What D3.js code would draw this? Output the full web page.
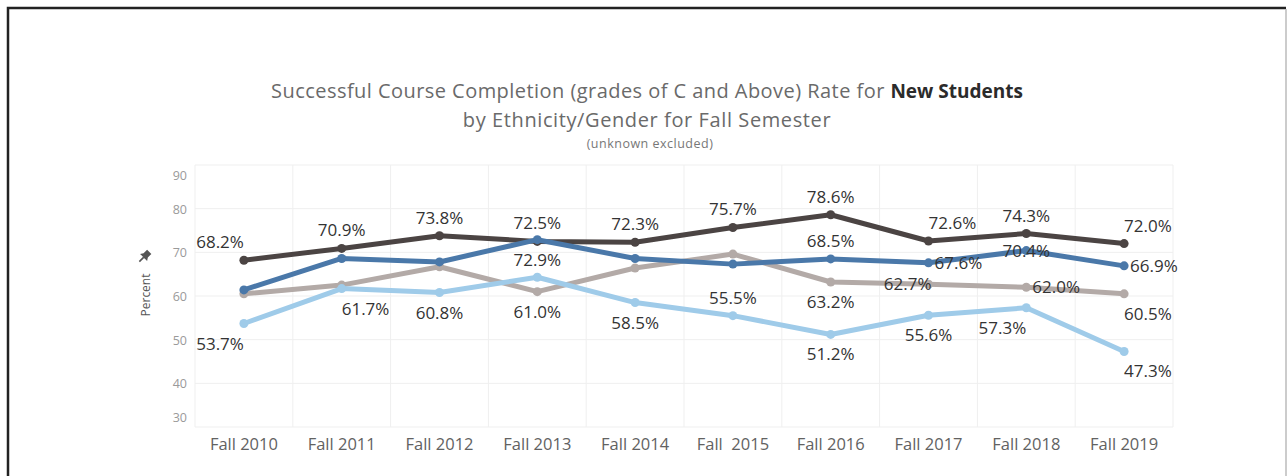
<!DOCTYPE html>
<html>
<head>
<meta charset="utf-8">
<script src="https://cdn.jsdelivr.net/npm/d3@7"></script>
<style>
  html, body { margin: 0; padding: 0; background: #fff; }
  svg { display: block; font-family: "Open Sans", sans-serif; }
</style>
</head>
<body>
<div id="chart"></div>
<script>
// semesters on the x axis
var terms = ["Fall 2010", "Fall 2011", "Fall 2012", "Fall 2013", "Fall 2014",
             "Fall  2015", "Fall 2016", "Fall 2017", "Fall 2018", "Fall 2019"];

// four ethnicity/gender groups (no legend in the source, named by colour)
var darkSeries  = [68.2, 70.9, 73.8, 72.5, 72.3, 75.7, 78.6, 72.6, 74.3, 72.0];
var blueSeries  = [61.4, 68.6, 67.8, 72.9, 68.6, 67.3, 68.5, 67.6, 70.4, 66.9];
var greySeries  = [60.5, 62.5, 66.7, 61.0, 66.4, 69.6, 63.2, 62.7, 62.0, 60.5];
var lightSeries = [53.7, 61.7, 60.8, 64.3, 58.5, 55.5, 51.2, 55.6, 57.3, 47.3];

var yTicks = [30, 40, 50, 60, 70, 80, 90];

// which points carry a label: [series, term index, anchor, side]
var labelSpots = [
    ["dark", 0, "end", "above"], ["light", 0, "end", "below"],
    ["dark", 1, "middle", "above"], ["light", 1, "start", "below"],
    ["dark", 2, "middle", "above"], ["light", 2, "middle", "below"],
    ["dark", 3, "middle", "above"], ["blue", 3, "middle", "below"], ["grey", 3, "middle", "below"],
    ["dark", 4, "middle", "above"], ["light", 4, "middle", "below"],
    ["dark", 5, "middle", "above"], ["light", 5, "middle", "above"],
    ["dark", 6, "middle", "above"], ["blue", 6, "middle", "above"], ["grey", 6, "middle", "below"], ["light", 6, "middle", "below"],
    ["dark", 7, "start", "above"], ["blue", 7, "start", "right"], ["grey", 7, "end", "left"], ["light", 7, "middle", "below"],
    ["dark", 8, "middle", "above"], ["blue", 8, "middle", "on"], ["grey", 8, "start", "right"], ["light", 8, "end", "below"],
    ["dark", 9, "start", "above"], ["blue", 9, "start", "right"], ["grey", 9, "start", "below"], ["light", 9, "start", "below"]
];

var width = 1287, height = 476;
var margin = {left: 195, right: 114, top: 165, bottom: 49};

var series = [
    {key: "grey",  values: greySeries,  color: "#b3aaa7"},
    {key: "light", values: lightSeries, color: "#9fcbe9"},
    {key: "dark",  values: darkSeries,  color: "#4b4443"},
    {key: "blue",  values: blueSeries,  color: "#4a78a9"}
];
var byKey = {};
series.forEach(function(s) { byKey[s.key] = s; });

var svg = d3.select("#chart").append("svg")
    .attr("width", width)
    .attr("height", height);

// frame
svg.append("path")
    .attr("d", "M8,476 V8 H1286")
    .attr("fill", "none")
    .attr("stroke", "#222")
    .attr("stroke-width", 2.5);
svg.append("line")
    .attr("x1", 1286).attr("x2", 1286).attr("y1", 9).attr("y2", 476)
    .attr("stroke", "#bbb").attr("stroke-width", 1.5);

// title
var title = svg.append("text")
    .attr("x", 647).attr("y", 98)
    .attr("text-anchor", "middle")
    .style("font-size", "20px")
    .style("fill", "#6a6a6a");
title.append("tspan").text("Successful Course Completion (grades of C and Above) Rate for ")
    .style("letter-spacing", "0.45px");
title.append("tspan").text("New Students").style("font-weight", "bold")
    .style("font-size", "19px").style("fill", "#2b2b2b");

svg.append("text")
    .attr("x", 647).attr("y", 127)
    .attr("text-anchor", "middle")
    .style("font-size", "20px")
    .style("letter-spacing", "0.6px")
    .style("fill", "#6a6a6a")
    .text("by Ethnicity/Gender for Fall Semester");

svg.append("text")
    .attr("x", 650).attr("y", 148)
    .attr("text-anchor", "middle")
    .style("font-size", "12.5px")
    .style("letter-spacing", "0.5px")
    .style("fill", "#777")
    .text("(unknown excluded)");

var x = d3.scaleBand()
    .domain(terms)
    .range([margin.left, width - margin.right]);

var y = d3.scaleLinear()
    .domain([30, 90])
    .range([height - margin.bottom, margin.top]);

var cx = function(i) { return x(terms[i]) + x.bandwidth() / 2; };

// grid
var grid = svg.append("g");
grid.selectAll("line.h")
    .data(yTicks)
    .enter().append("line")
    .attr("x1", margin.left).attr("x2", width - margin.right)
    .attr("y1", function(d) { return y(d); })
    .attr("y2", function(d) { return y(d); })
    .attr("stroke", "#efefef").attr("stroke-width", 1);
grid.selectAll("line.v")
    .data(terms.concat(["end"]))
    .enter().append("line")
    .attr("x1", function(d, i) { return margin.left + i * x.bandwidth(); })
    .attr("x2", function(d, i) { return margin.left + i * x.bandwidth(); })
    .attr("y1", y(90)).attr("y2", y(30))
    .attr("stroke", "#efefef").attr("stroke-width", 1);

// y axis labels
var yAxis = d3.axisLeft(y).tickValues(yTicks).tickSize(0).tickPadding(8);
var gy = svg.append("g")
    .attr("transform", "translate(" + margin.left + ",0)")
    .call(yAxis);
gy.select(".domain").remove();
gy.selectAll("text")
    .style("font-family", "Open Sans, sans-serif")
    .style("font-size", "12.5px")
    .style("fill", "#9a9a9a")
    .attr("dy", function(d) { return d == 90 ? "1.15em" : d == 30 ? "-0.45em" : "0.35em"; });

// x axis labels
var xAxis = d3.axisBottom(x).tickSize(0).tickPadding(11);
var gx = svg.append("g")
    .attr("transform", "translate(0," + y(30) + ")")
    .call(xAxis);
gx.select(".domain").remove();
gx.selectAll("text")
    .style("font-family", "Open Sans, sans-serif")
    .style("font-size", "16.5px")
    .style("fill", "#626262")
    .style("white-space", "pre");

// y axis title with pin
var yTitle = svg.append("g").attr("transform", "translate(150,295) rotate(-90)");
yTitle.append("text")
    .attr("text-anchor", "middle")
    .style("font-size", "12px")
    .style("fill", "#555")
    .text("Percent");
svg.append("path")
    .attr("transform", "translate(145,256) rotate(45)")
    .attr("d", "M-3,-6 H3 V-1 L5,2 H-5 L-3,-1 Z M-0.8,2 V8 H0.8 V2 Z")
    .attr("fill", "#555");

// lines
var line = d3.line()
    .x(function(d, i) { return cx(i); })
    .y(function(d) { return y(d); });

var lines = svg.append("g");
series.forEach(function(s) {
    lines.append("path")
        .datum(s.values)
        .attr("d", line)
        .attr("fill", "none")
        .attr("stroke", s.color)
        .attr("stroke-width", 5)
        .attr("stroke-linejoin", "round");
    lines.selectAll("circle." + s.key)
        .data(s.values)
        .enter().append("circle")
        .attr("class", s.key)
        .attr("cx", function(d, i) { return cx(i); })
        .attr("cy", function(d) { return y(d); })
        .attr("r", 4.5)
        .attr("fill", s.color);
});

// value labels
svg.append("g").selectAll("text")
    .data(labelSpots)
    .enter().append("text")
    .attr("text-anchor", function(d) { return d[2]; })
    .attr("x", function(d) {
        var px = cx(d[1]);
        if (d[3] == "right") return px + 6;
        if (d[3] == "left") return px + 3;
        return px;
    })
    .attr("y", function(d) {
        var py = y(byKey[d[0]].values[d[1]]);
        if (d[3] == "above") return py - 12;
        if (d[3] == "below") return py + 26;
        return py + 6;
    })
    .style("font-size", "17px")
    .style("fill", "#333")
    .text(function(d) { return byKey[d[0]].values[d[1]].toFixed(1) + "%"; });
</script>
</body>
</html>
